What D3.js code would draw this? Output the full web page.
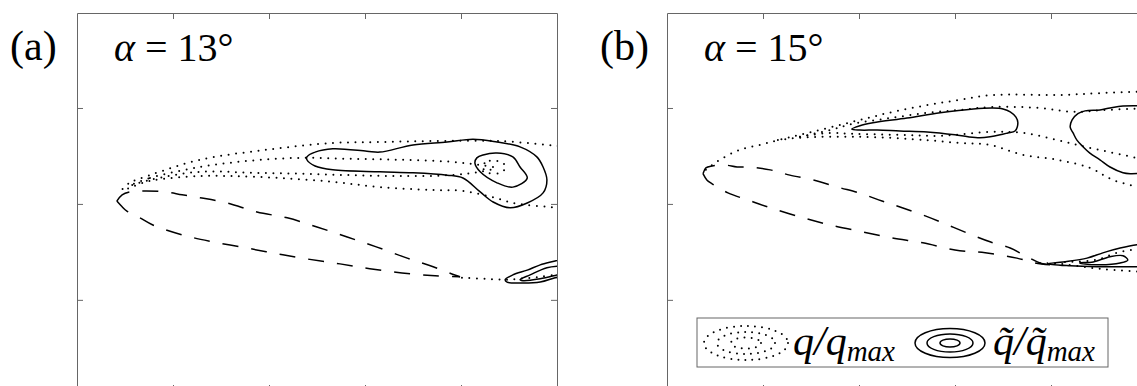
<!DOCTYPE html>
<html>
<head>
<meta charset="utf-8">
<script src="https://cdn.jsdelivr.net/npm/d3@7"></script>
<style>
  html, body { margin: 0; padding: 0; background: #fff; }
  svg { display: block; }
</style>
</head>
<body>
<svg id="fig" width="1137" height="386"></svg>
<script>
// Axis ticks (chord units, equal aspect) and panel captions
const xTickValues = [0.2, 0.4, 0.6, 0.8];
const yTickValues = [-0.2, 0, 0.2];
const panelLabels = ["(a)", "(b)"];
const angles = [13, 15];

// ---------- alpha = 13 deg ----------
// dashed boundary, upper and lower branches from the leading edge
const a13DashUpper = [[0.083,0.006],[0.094,0.019],[0.110,0.025],[0.142,0.027],[0.183,0.025],[0.219,0.019],[0.256,0.013],[0.313,0.002],[0.375,-0.017],[0.438,-0.029],[0.500,-0.048],[0.563,-0.069],[0.625,-0.090],[0.688,-0.113],[0.742,-0.131],[0.781,-0.146],[0.798,-0.152]];
const a13DashLower = [[0.083,0.006],[0.094,-0.006],[0.104,-0.015],[0.131,-0.029],[0.158,-0.044],[0.221,-0.065],[0.283,-0.079],[0.354,-0.092],[0.417,-0.104],[0.481,-0.115],[0.548,-0.125],[0.610,-0.135],[0.677,-0.144],[0.746,-0.150],[0.798,-0.152]];
// q/qmax levels (dotted)
const a13QOuter = [[1.017,0.119],[1.000,0.121],[0.881,0.131],[0.742,0.131],[0.631,0.129],[0.533,0.127],[0.396,0.113],[0.256,0.092],[0.152,0.060],[0.110,0.044],[0.094,0.029],[0.152,0.048],[0.256,0.058],[0.325,0.058],[0.423,0.054],[0.533,0.046],[0.631,0.035],[0.742,0.029],[0.804,0.027],[0.881,0.010],[0.908,0.002],[1.000,-0.008],[1.017,-0.010]];
const a13QMid = [[0.110,0.038],[0.152,0.054],[0.256,0.077],[0.360,0.090],[0.465,0.096],[0.569,0.094],[0.673,0.092],[0.777,0.088],[0.840,0.081],[0.871,0.075],[0.840,0.067],[0.777,0.060],[0.673,0.058],[0.569,0.060],[0.465,0.063],[0.360,0.065],[0.256,0.067],[0.152,0.050]];
const a13QInner = [[0.844,0.079],[0.860,0.090],[0.881,0.088],[0.894,0.077],[0.881,0.065],[0.856,0.065]];
const a13QWake = [[0.802,-0.154],[0.850,-0.156],[0.892,-0.158],[0.923,-0.156],[0.965,-0.152],[1.017,-0.144]];
// fluctuation levels (solid)
const a13FOuter = [[0.479,0.098],[0.496,0.108],[0.533,0.115],[0.604,0.110],[0.631,0.108],[0.700,0.123],[0.771,0.129],[0.825,0.135],[0.875,0.129],[0.923,0.119],[0.958,0.098],[0.971,0.077],[0.979,0.050],[0.971,0.023],[0.938,0.002],[0.902,-0.008],[0.867,0.004],[0.840,0.025],[0.804,0.054],[0.771,0.060],[0.700,0.065],[0.631,0.067],[0.533,0.071],[0.496,0.079],[0.479,0.092]];
const a13FInner = [[0.829,0.085],[0.833,0.096],[0.846,0.102],[0.875,0.106],[0.908,0.098],[0.923,0.077],[0.938,0.054],[0.908,0.035],[0.875,0.044],[0.840,0.067]];
const a13FWakeOuter = [[1.017,-0.113],[0.996,-0.119],[0.965,-0.127],[0.938,-0.138],[0.908,-0.148],[0.892,-0.158],[0.896,-0.163],[0.923,-0.165],[0.965,-0.163],[0.996,-0.154],[1.017,-0.150]];
const a13FWakeInner = [[1.017,-0.129],[0.979,-0.133],[0.944,-0.148],[0.923,-0.158],[0.929,-0.160],[0.965,-0.156],[1.000,-0.148],[1.017,-0.144]];

// ---------- alpha = 15 deg ----------
const a15DashUpper = [[0.075,0.063],[0.081,0.075],[0.094,0.079],[0.121,0.081],[0.146,0.077],[0.173,0.077],[0.215,0.071],[0.256,0.060],[0.304,0.050],[0.356,0.035],[0.406,0.021],[0.448,0.006],[0.490,-0.008],[0.538,-0.025],[0.585,-0.044],[0.631,-0.063],[0.673,-0.079],[0.715,-0.092],[0.746,-0.108],[0.777,-0.123],[0.798,-0.127]];
const a15DashLower = [[0.075,0.063],[0.083,0.050],[0.094,0.042],[0.127,0.023],[0.169,0.008],[0.215,-0.008],[0.277,-0.027],[0.340,-0.044],[0.406,-0.058],[0.469,-0.071],[0.533,-0.081],[0.600,-0.096],[0.663,-0.102],[0.729,-0.113],[0.767,-0.123],[0.798,-0.127]];
const a15QTop = [[0.081,0.071],[0.104,0.088],[0.152,0.113],[0.194,0.123],[0.231,0.133],[0.277,0.144],[0.402,0.175],[0.471,0.192],[0.542,0.206],[0.610,0.217],[0.679,0.227],[0.819,0.227],[0.902,0.231],[1.006,0.235]];
const a15QBottom = [[0.231,0.133],[0.277,0.138],[0.402,0.140],[0.542,0.133],[0.610,0.127],[0.673,0.123],[0.742,0.102],[0.813,0.092],[0.881,0.075],[0.929,0.050],[1.006,0.029]];
const a15QMidTop = [[0.277,0.140],[0.340,0.154],[0.388,0.167],[0.465,0.179],[0.542,0.190],[0.610,0.196],[0.679,0.202],[0.777,0.200],[0.846,0.192],[0.917,0.196],[1.006,0.200]];
const a15QMidBottom = [[0.277,0.140],[0.340,0.148],[0.388,0.146],[0.485,0.144],[0.569,0.142],[0.673,0.150],[0.742,0.148],[0.813,0.133],[0.881,0.117],[1.006,0.090]];
const a15QWake = [[0.777,-0.123],[0.819,-0.125],[0.881,-0.133],[0.933,-0.138],[1.006,-0.142]];
const a15QWakeInner = [[0.829,-0.121],[0.892,-0.117],[0.944,-0.100],[1.006,-0.092]];
const a15FFront = [[0.385,0.156],[0.402,0.163],[0.429,0.169],[0.500,0.179],[0.569,0.190],[0.638,0.198],[0.679,0.200],[0.700,0.198],[0.715,0.192],[0.727,0.181],[0.731,0.169],[0.725,0.152],[0.710,0.148],[0.694,0.144],[0.673,0.140],[0.652,0.138],[0.627,0.140],[0.600,0.144],[0.542,0.150],[0.485,0.152],[0.438,0.154],[0.402,0.154]];
const a15FRear = [[1.006,0.204],[0.950,0.204],[0.923,0.200],[0.902,0.196],[0.871,0.194],[0.856,0.188],[0.844,0.175],[0.840,0.160],[0.846,0.148],[0.854,0.133],[0.867,0.119],[0.881,0.106],[0.902,0.092],[0.923,0.077],[0.950,0.065],[0.965,0.063],[1.006,0.065]];
const a15FWakeOuter = [[1.006,-0.083],[0.979,-0.085],[0.944,-0.092],[0.908,-0.102],[0.875,-0.113],[0.825,-0.121],[0.794,-0.125],[0.840,-0.129],[0.896,-0.131],[0.944,-0.131],[1.006,-0.131]];
const a15FWakeInner = [[0.860,-0.123],[0.888,-0.121],[0.923,-0.110],[0.950,-0.108],[0.960,-0.117],[0.944,-0.123],[0.902,-0.127],[0.867,-0.125]];

// Panels assembled from the arrays above
const panels = [
  {
    dashed: [a13DashUpper, a13DashLower],
    dotted: [a13QOuter, a13QWake],
    dottedClosed: [a13QMid, a13QInner],
    solid: [a13FWakeOuter, a13FWakeInner],
    solidClosed: [a13FOuter, a13FInner]
  },
  {
    dashed: [a15DashUpper, a15DashLower],
    dotted: [a15QTop, a15QBottom, a15QMidTop, a15QMidBottom, a15QWake, a15QWakeInner],
    dottedClosed: [],
    solid: [a15FRear, a15FWakeOuter],
    solidClosed: [a15FFront, a15FWakeInner]
  }
];

const SERIF = "'Liberation Serif', serif";
const svg = d3.select("#fig");
const W = 480, H = 378, TOP = 13;
const lefts = [77, 667];
const axisColor = "#666";

const x = d3.scaleLinear().domain([0, 1]).range([0, W]);
const y = d3.scaleLinear().domain([-0.390, 0.398]).range([H, 0]);

const lineOpen = d3.line().x(d => x(d[0])).y(d => y(d[1])).curve(d3.curveCatmullRom.alpha(0.5));
const lineClosed = d3.line().x(d => x(d[0])).y(d => y(d[1])).curve(d3.curveCatmullRomClosed.alpha(0.5));

const dotStyle = s => s.attr("fill", "none").attr("stroke", "#000").attr("stroke-width", 2)
  .attr("stroke-linecap", "round").attr("stroke-dasharray", "0 7.5");
const dashStyle = s => s.attr("fill", "none").attr("stroke", "#000").attr("stroke-width", 1.5)
  .attr("stroke-dasharray", "16 13");
const solidStyle = s => s.attr("fill", "none").attr("stroke", "#000").attr("stroke-width", 1.5)
  .attr("stroke-linejoin", "round");

panels.forEach((p, i) => {
  const g = svg.append("g").attr("transform", `translate(${lefts[i]},${TOP})`);

  g.append("clipPath").attr("id", "clip" + i)
    .append("rect").attr("width", W).attr("height", H);
  const plot = g.append("g").attr("clip-path", `url(#clip${i})`);

  plot.selectAll("path.dot").data(p.dotted).join("path").attr("class", "dot")
    .attr("d", lineOpen).call(dotStyle);
  plot.selectAll("path.dotc").data(p.dottedClosed).join("path").attr("class", "dotc")
    .attr("d", lineClosed).call(dotStyle);
  plot.selectAll("path.dash").data(p.dashed).join("path").attr("class", "dash")
    .attr("d", lineOpen).call(dashStyle);
  plot.selectAll("path.sol").data(p.solid).join("path").attr("class", "sol")
    .attr("d", lineOpen).call(solidStyle);
  plot.selectAll("path.solc").data(p.solidClosed).join("path").attr("class", "solc")
    .attr("d", lineClosed).call(solidStyle);

  // boxed axes with inward ticks, no labels
  const axes = [
    [d3.axisTop(x).tickValues(xTickValues), `translate(0,0)`],
    [d3.axisBottom(x).tickValues(xTickValues), `translate(0,${H})`],
    [d3.axisLeft(y).tickValues(yTickValues), `translate(0,0)`],
    [d3.axisRight(y).tickValues(yTickValues), `translate(${W},0)`]
  ];
  axes.forEach(([ax, tr]) => {
    const a = g.append("g").attr("transform", tr)
      .call(ax.tickSizeInner(-6).tickSizeOuter(0).tickFormat(""));
    a.select(".domain").attr("stroke", axisColor).attr("stroke-width", 1);
    a.selectAll(".tick line").attr("stroke", axisColor).attr("stroke-width", 1);
  });

  // panel caption and angle of attack
  svg.append("text").attr("x", lefts[i] - 67).attr("y", 60)
    .attr("font-family", SERIF).attr("font-size", 42).text(panelLabels[i]);
  const t = svg.append("text").attr("x", lefts[i] + 37).attr("y", 61)
    .attr("font-family", SERIF).attr("font-size", 40);
  t.append("tspan").attr("font-style", "italic").text("α");
  t.append("tspan").text(` = ${angles[i]}°`);
});

// legend inside the second panel
const lg = svg.append("g");
lg.append("rect").attr("x", 697).attr("y", 318).attr("width", 411).attr("height", 49)
  .attr("fill", "#fff").attr("stroke", axisColor).attr("stroke-width", 1);
[[42, 17], [29, 11], [15, 5.5]].forEach(([rx, ry]) => {
  lg.append("ellipse").attr("cx", 746).attr("cy", 343).attr("rx", rx).attr("ry", ry)
    .call(dotStyle).attr("stroke-dasharray", "0 7");
});
[[35, 14.5], [23, 9], [10, 4]].forEach(([rx, ry]) => {
  lg.append("ellipse").attr("cx", 950).attr("cy", 343).attr("rx", rx).attr("ry", ry)
    .call(solidStyle);
});
const l1 = lg.append("text").attr("x", 793).attr("y", 355).attr("font-family", SERIF)
  .attr("font-size", 42).attr("font-style", "italic");
l1.append("tspan").text("q/q");
l1.append("tspan").attr("font-size", 29).attr("dy", 6).text("max");
const l2 = lg.append("text").attr("x", 993).attr("y", 355).attr("font-family", SERIF)
  .attr("font-size", 42).attr("font-style", "italic");
l2.append("tspan").text("q\u0303/q\u0303");
l2.append("tspan").attr("font-size", 29).attr("dy", 6).text("max");
</script>
</body>
</html>
